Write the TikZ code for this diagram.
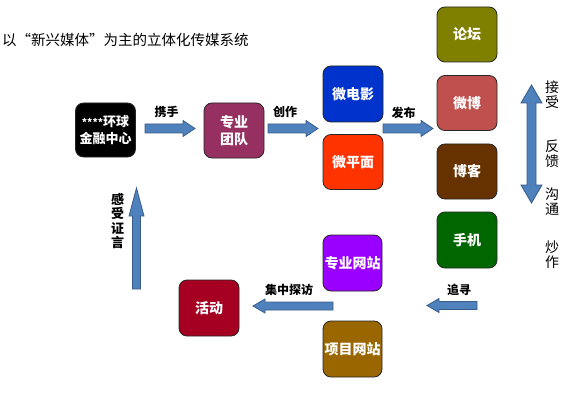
\documentclass[tikz,border=0pt]{standalone}
\usepackage{fontspec}
\newfontfamily\cjk{Noto Sans CJK SC}
\usetikzlibrary{positioning}
\definecolor{arrfill}{HTML}{4F81BD}
\definecolor{arrdraw}{HTML}{385D8A}
\tikzset{
  box/.style={draw=black!85, rounded corners=8pt, minimum width=60pt, minimum height=55pt,
    text=white, font=\cjk\bfseries\fontsize{14}{17}\selectfont, align=center, inner sep=0pt, line width=0.8pt},
  barrow/.style={fill=arrfill, draw=arrdraw, line width=0.8pt, line join=miter},
  lbl/.style={font=\cjk\bfseries\fontsize{12}{14}\selectfont, inner sep=0pt},
  side/.style={font=\cjk\fontsize{14}{15}\selectfont, align=center, inner sep=0pt}
}
% right-pointing block arrow: x1, x2, y
\newcommand\rblk[3]{\draw[barrow] (#1,#3-4.5) -- (#2-12,#3-4.5) -- (#2-12,#3-8) -- (#2,#3) -- (#2-12,#3+8) -- (#2-12,#3+4.5) -- (#1,#3+4.5) -- cycle;}
% left-pointing block arrow: x1 (tail, right), x2 (tip, left), y
\newcommand\lblk[3]{\draw[barrow] (#1,#3-4) -- (#2+12,#3-4) -- (#2+12,#3-7) -- (#2,#3) -- (#2+12,#3+7) -- (#2+12,#3+4) -- (#1,#3+4) -- cycle;}
\newcommand\fwq[1]{\makebox[14.5pt][c]{#1}}
\begin{document}
\begin{tikzpicture}[x=1pt,y=-1pt]
\useasboundingbox (0,0) rectangle (570,417);
% title
\node[anchor=west, font=\cjk\fontsize{14.5}{16}\selectfont, inner sep=0pt] (title) at (2,40) {以\fwq{“}新兴媒体\fwq{”}为主的立体化传媒系统};
% boxes
\node[box, fill=black, minimum height=54pt, font=\cjk\bfseries\fontsize{13}{17}\selectfont] (hq) at (105.5,130) {{\fontsize{10}{12}\selectfont ****}环球\\金融中心};
\node[box, fill={rgb,255:red,150;green,48;blue,96}] (team) at (234,130.5) {专业\\团队};
\node[box, fill={rgb,255:red,0;green,51;blue,204}, minimum height=56pt] (film) at (353,94) {微电影};
\node[box, fill={rgb,255:red,255;green,51;blue,0}] (plane) at (353,162) {微平面};
\node[box, fill={rgb,255:red,128;green,128;blue,0}] (forum) at (467,34.5) {论坛};
\node[box, fill={rgb,255:red,192;green,80;blue,77}] (weibo) at (467,103) {微博};
\node[box, fill={rgb,255:red,102;green,51;blue,0}] (blog) at (467,171.5) {博客};
\node[box, fill={rgb,255:red,0;green,102;blue,0}, minimum height=56pt] (phone) at (467,240) {手机};
\node[box, fill={rgb,255:red,153;green,0;blue,255}, minimum width=59pt, minimum height=56pt] (site1) at (352.5,263) {专业网站};
\node[box, fill={rgb,255:red,153;green,102;blue,0}, minimum width=59pt, minimum height=56pt] (site2) at (352.5,349) {项目网站};
\node[box, fill={rgb,255:red,165;green,0;blue,33}, minimum height=56pt] (event) at (209,308) {活动};
% block arrows
\rblk{145}{195}{128.5}
\rblk{268}{318}{128.5}
\rblk{383}{433}{128.5}
\lblk{477}{427}{305.5}
\lblk{333}{253}{306}
% up arrow
\draw[barrow] (132.5,289) -- (132.5,216) -- (129,216) -- (136.5,188) -- (144,216) -- (140.5,216) -- (140.5,289) -- cycle;
% double vertical arrow
\draw[barrow] (531.5,85) -- (542,103) -- (536,103) -- (536,185) -- (542,185) -- (531.5,203) -- (521,185) -- (527,185) -- (527,103) -- (521,103) -- cycle;
% labels
\node[lbl] (l1) at (166.5,112) {携手};
\node[lbl] (l2) at (285,112) {创作};
\node[lbl] (l3) at (403.5,112.5) {发布};
\node[lbl] (l4) at (459,289.5) {追寻};
\node[lbl] (l5) at (289,289.5) {集中探访};
\node[lbl, align=center, font=\cjk\bfseries\fontsize{13}{14.5}\selectfont] (l6) at (117.5,221) {感\\受\\证\\言};
\node[side] (s1) at (552,95) {接\\受};
\node[side] (s2) at (552,153.5) {反\\馈};
\node[side] (s3) at (552,201.5) {沟\\通};
\node[side] (s4) at (552,255) {炒\\作};
\end{tikzpicture}
\end{document}
